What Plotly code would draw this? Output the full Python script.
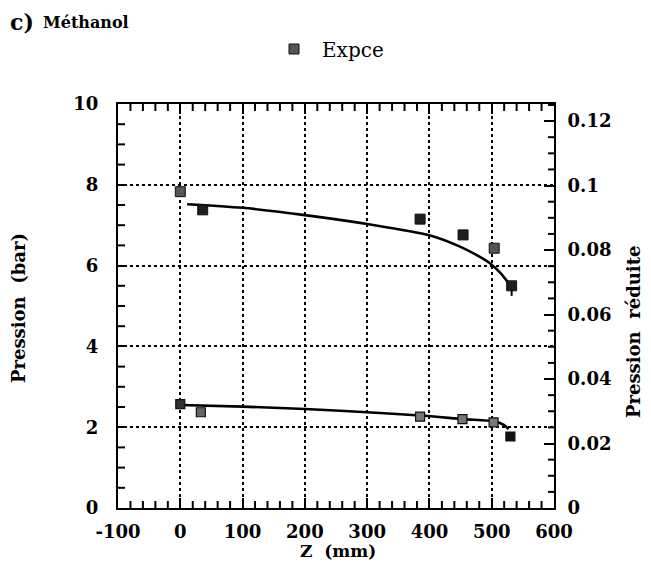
import plotly.graph_objects as go

# Experimental points (Z in mm, pressure in bar)
exp_top_z = [0, 36, 385, 454, 504, 532]
exp_top_p = [7.83, 7.38, 7.15, 6.76, 6.43, 5.50]
exp_top_err_minus = [0, 0, 0, 0, 0, 0.25]
exp_bot_z = [0, 33, 385, 453, 503, 530]
exp_bot_p = [2.57, 2.37, 2.26, 2.20, 2.12, 1.77]

# Model curves
curve_top_z = [11, 100, 200, 300, 400, 449, 476, 497, 515, 529]
curve_top_p = [7.52, 7.43, 7.25, 7.03, 6.75, 6.47, 6.26, 6.06, 5.80, 5.52]
curve_bot_z = [0, 100, 200, 300, 385, 455, 505, 520, 527]
curve_bot_p = [2.55, 2.51, 2.45, 2.37, 2.29, 2.20, 2.14, 2.05, 1.95]

# Tick labels and minor tick positions
x_tick_vals = [-100, 0, 100, 200, 300, 400, 500, 600]
x_tick_text = ["-100", "0", "100", "200", "300", "400", "500", "600"]
x_minor_vals = [v for v in range(-100, 601, 20) if v % 100 != 0]
y_minor_vals = [v / 2 for v in range(0, 21) if v % 4 != 0]
y2_minor_vals = [round(v * 0.005, 3) for v in range(0, 26) if v % 4 != 0]

FONT = "DejaVu Serif"

# page geometry (browser body has an 8px margin)
OFF = 8
PL, PR, PT, PB = 118, 554, 104, 508
FW, FH = 643, 570
W = PR - PL
H = PB - PT


def px(xp):
    return (xp - PL) / W


def py(yp):
    return (PB - yp) / H


fig = go.Figure()
fig.add_trace(go.Scatter(x=curve_top_z, y=curve_top_p, mode="lines",
                         line=dict(color="black", width=2.6, shape="spline", smoothing=0.8),
                         showlegend=False))
fig.add_trace(go.Scatter(x=curve_bot_z, y=curve_bot_p, mode="lines",
                         line=dict(color="black", width=2.6, shape="spline", smoothing=0.8),
                         showlegend=False))
fig.add_trace(go.Scatter(x=exp_top_z, y=exp_top_p, mode="markers", name="Expce",
                         legendgroup="e",
                         error_y=dict(type="data", symmetric=False,
                                      array=[0] * len(exp_top_z),
                                      arrayminus=exp_top_err_minus,
                                      color="black", thickness=2, width=0),
                         marker=dict(symbol="square", size=10,
                                     color=["#555555", "#1e1e1e", "#1e1e1e", "#1e1e1e", "#555555", "#1e1e1e"],
                                     line=dict(color="#111111", width=1))))
fig.add_trace(go.Scatter(x=exp_bot_z, y=exp_bot_p, mode="markers", name="Expce",
                         legendgroup="e", showlegend=False,
                         marker=dict(symbol="square", size=9,
                                     color=["#333333", "#666666", "#777777", "#777777", "#777777", "#111111"],
                                     line=dict(color="#111111", width=1.2))))
# dummy trace so the right axis is drawn
fig.add_trace(go.Scatter(x=[None], y=[None], yaxis="y2", showlegend=False))

tick_font = dict(family=FONT, size=18, color="black", weight="bold")
title_font = dict(family=FONT, size=18, color="black", weight="bold")

fig.update_layout(
    width=FW, height=FH,
    margin=dict(l=PL - OFF, r=FW - (PR - OFF), t=PT - OFF, b=FH - (PB - OFF), autoexpand=False),
    paper_bgcolor="white", plot_bgcolor="white",
    xaxis=dict(range=[-100, 600], tickvals=x_tick_vals, ticktext=x_tick_text,
               showgrid=True, gridcolor="black", griddash="dot", gridwidth=2,
               zeroline=False, showline=True, linecolor="black", linewidth=2,
               mirror="ticks", ticks="inside", ticklen=10, tickwidth=2, tickcolor="black",
               tickfont=tick_font, ticklabelstandoff=6),
    yaxis=dict(range=[0, 10], tickmode="linear", tick0=0, dtick=2,
               showgrid=True, gridcolor="black", griddash="dot", gridwidth=2,
               zeroline=False, showline=True, linecolor="black", linewidth=2,
               mirror=False, ticks="inside", ticklen=8, tickwidth=2, tickcolor="black",
               tickfont=tick_font, ticklabelstandoff=14),
    yaxis2=dict(range=[0, 0.1253], tickmode="linear", tick0=0, dtick=0.02,
                overlaying="y", side="right",
                showgrid=False, zeroline=False, showline=True, linecolor="black", linewidth=2,
                ticks="inside", ticklen=10, tickwidth=2, tickcolor="black",
                tickfont=tick_font, ticklabelstandoff=8),
    legend=dict(x=px(266), y=py(49), xanchor="left", yanchor="middle",
                bgcolor="rgba(0,0,0,0)", itemwidth=46,
                font=dict(family=FONT, size=20, color="black")),
)

# minor ticks, placed through the axes' own scales
tick_style = dict(color="black", width=2)
for v in x_minor_vals:
    fig.add_shape(type="line", xref="x", yref="paper", x0=v, x1=v, y0=0, y1=7 / H,
                  line=tick_style, layer="above")
    fig.add_shape(type="line", xref="x", yref="paper", x0=v, x1=v, y0=1, y1=1 - 7 / H,
                  line=tick_style, layer="above")
for v in y_minor_vals:
    fig.add_shape(type="line", xref="paper", yref="y", x0=0, x1=7 / W, y0=v, y1=v,
                  line=tick_style, layer="above")
for v in y2_minor_vals:
    fig.add_shape(type="line", xref="paper", yref="y2", x0=1, x1=1 - 6 / W, y0=v, y1=v,
                  line=tick_style, layer="above")

fig.add_annotation(text="<b>c)</b>", x=px(8), y=py(22), xref="paper", yref="paper",
                   xanchor="left", yanchor="middle", showarrow=False,
                   font=dict(family=FONT, size=22, color="black"))
fig.add_annotation(text="<b>Méthanol</b>", x=px(41), y=py(22), xref="paper", yref="paper",
                   xanchor="left", yanchor="middle", showarrow=False,
                   font=dict(family=FONT, size=16, color="black"))
fig.add_annotation(text="<b>Z  (mm)</b>", x=px(338), y=py(551), xref="paper", yref="paper",
                   xanchor="center", yanchor="middle", showarrow=False,
                   font=dict(family=FONT, size=17, color="black"))
fig.add_annotation(text="<b>Pression  (bar)</b>", x=px(18), y=py(308), xref="paper", yref="paper",
                   xanchor="center", yanchor="middle", showarrow=False, textangle=-90,
                   font=title_font)
fig.add_annotation(text="<b>Pression  réduite</b>", x=px(633), y=py(332), xref="paper", yref="paper",
                   xanchor="center", yanchor="middle", showarrow=False, textangle=-90,
                   font=title_font)

fig.write_html("out.html")
